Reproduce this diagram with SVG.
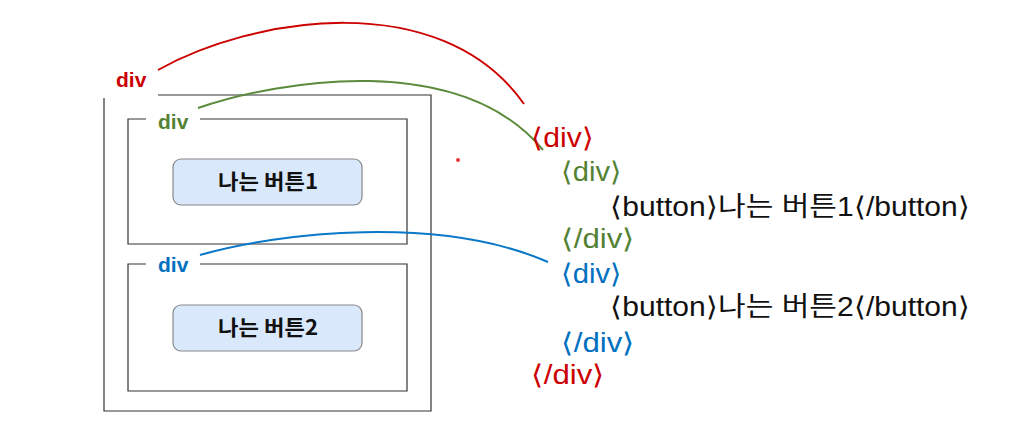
<svg xmlns="http://www.w3.org/2000/svg" width="1036" height="437" viewBox="0 0 1036 437">
<style>
.box{fill:none;stroke:#333;stroke-width:1.2}
.btn{fill:#dae8fc;stroke:#888;stroke-width:1.2}
.btxt{font-family:"Noto Sans CJK KR","Liberation Sans",sans-serif;font-weight:bold;font-size:21px;fill:#111}
.lbl{font-family:"Liberation Sans","Noto Sans CJK KR",sans-serif;font-weight:bold;font-size:21px}
.code{font-family:"Liberation Sans","Noto Sans CJK KR",sans-serif;font-size:27px}
.red{fill:#cc0000}.green{fill:#548235}.blue{fill:#0070c0}.blk{fill:#111}
.c{fill:none;stroke-width:2}
</style>
<rect width="1036" height="437" fill="#fff"/>
<g id="outer-div">
<path class="box" d="M158,95 H431 V411 H104 V98"/>
<text class="lbl red" x="116" y="87">div</text>
</g>
<g id="div1">
<path class="box" d="M200,119 H407 V244 H128 V119 H146"/>
<text class="lbl green" x="158" y="129">div</text>
</g>
<g id="button1">
<rect class="btn" x="173" y="159" width="189" height="46" rx="8"/>
<text class="btxt" x="218" y="189" textLength="100" lengthAdjust="spacingAndGlyphs">나는 버튼1</text>
</g>
<g id="div2">
<path class="box" d="M200,264 H407 V391 H128 V264 H146"/>
<text class="lbl blue" x="158" y="272">div</text>
</g>
<g id="button2">
<rect class="btn" x="173" y="305" width="189" height="46" rx="8"/>
<text class="btxt" x="218" y="335" textLength="100" lengthAdjust="spacingAndGlyphs">나는 버튼2</text>
</g>
<g id="connectors">
<path class="c" stroke="#cc0000" d="M158,70 C250,18 440,-15 524,104"/>
<path class="c" stroke="#5a8a3a" d="M198,108 C280,80 460,50 543,150"/>
<path class="c" stroke="#0a78c8" d="M200,255 C280,232 440,215 548,262"/>
</g>
<circle cx="458" cy="160" r="2" fill="#e53935"/>
<g id="code">
<text class="code red" x="531" y="147" textLength="63" lengthAdjust="spacingAndGlyphs">⟨div⟩</text>
<text class="code green" x="561" y="181" textLength="61" lengthAdjust="spacingAndGlyphs">⟨div⟩</text>
<text class="code blk" x="610" y="216" textLength="360" lengthAdjust="spacingAndGlyphs">⟨button⟩나는 버튼1⟨/button⟩</text>
<text class="code green" x="561" y="248" textLength="74" lengthAdjust="spacingAndGlyphs">⟨/div⟩</text>
<text class="code blue" x="561" y="283" textLength="61" lengthAdjust="spacingAndGlyphs">⟨div⟩</text>
<text class="code blk" x="610" y="316" textLength="360" lengthAdjust="spacingAndGlyphs">⟨button⟩나는 버튼2⟨/button⟩</text>
<text class="code blue" x="561" y="352" textLength="74" lengthAdjust="spacingAndGlyphs">⟨/div⟩</text>
<text class="code red" x="531" y="384" textLength="74" lengthAdjust="spacingAndGlyphs">⟨/div⟩</text>
</g>
</svg>
